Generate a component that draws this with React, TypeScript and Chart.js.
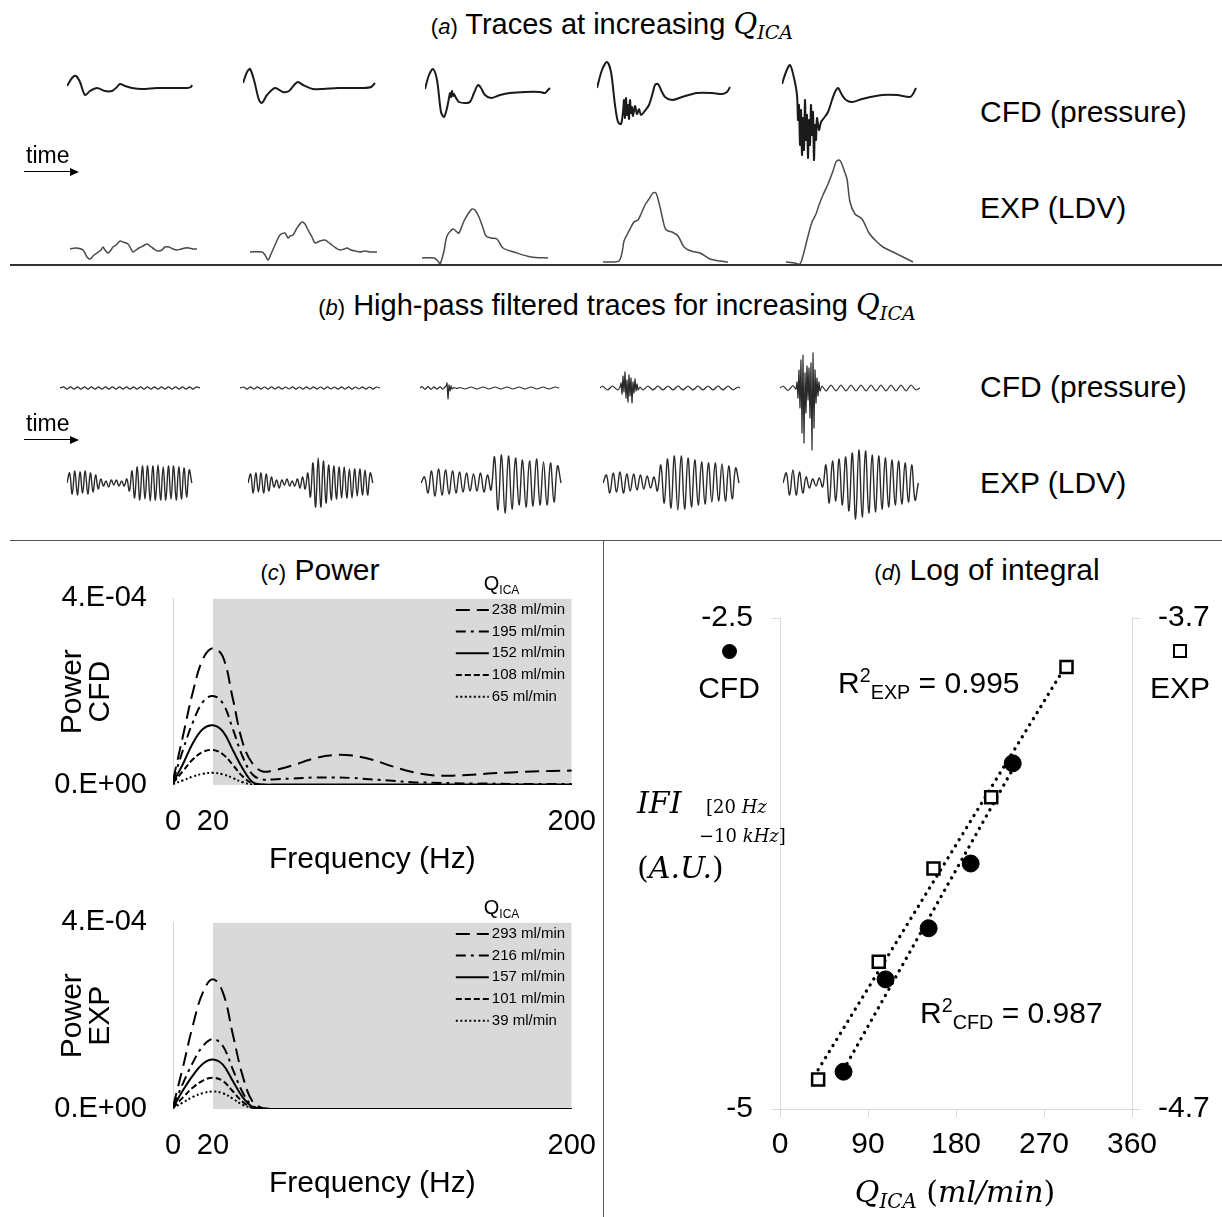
import React, { useEffect, useRef } from 'react';
import { Chart, registerables } from 'chart.js';

Chart.register(...registerables);
const FONT = '"Liberation Sans", Arial, Helvetica, sans-serif';
const SERIF = '"DejaVu Serif", "Liberation Serif", serif';
Chart.defaults.font.family = FONT;
Chart.defaults.color = '#000';

type Pair = [number, number];

// ---------------- flow rates (ml/min) ----------------
const cfdFlowRates = [65, 108, 152, 195, 238];
const expFlowRates = [39, 101, 157, 216, 293];

// ---------------- (a) raw traces: [time, value] (a.u.) ----------------
const cfdRaw065: Pair[] = [[0,79],[5,87],[9,89],[13,83],[18,70],[23,74],[30,77],[38,74],[45,74],[50,78],[53,81],[58,79],[65,77],[75,76],[90,77],[110,77],[120,77],[124,78],[125,80]];
const cfdRaw108: Pair[] = [[0,82],[4,93],[7,96],[11,85],[16,65],[19,62],[24,70],[32,77],[40,73],[46,74],[52,81],[55,83],[60,80],[70,76],[80,76],[95,77],[120,77],[128,78],[132,82]];
const cfdRaw152: Pair[] = [[0,76],[4,90],[8,96],[12,85],[16,53],[19,48],[22,57],[24,67],[25,72],[26,68],[27,74],[28,69],[29,71],[31,67],[34,63],[40,62],[45,63],[49,72],[53,80],[56,77],[60,70],[66,67],[75,70],[85,72],[100,73],[115,73],[120,72],[123,75],[125,77]];
const cfdRaw195: Pair[] = [[0,77],[5,95],[10,103],[14,93],[18,60],[21,43],[24,41],[26,53],[27,65],[28,47],[29,67],[30,50],[31,60],[32,46],[33,65],[34,52],[35,58],[36,49],[38,59],[40,51],[42,56],[44,50],[47,53],[52,60],[56,73],[58,80],[61,81],[64,75],[68,68],[75,65],[85,68],[100,72],[115,72],[125,71],[130,73],[133,78]];
const cfdRaw238: Pair[] = [[0,81],[4,93],[8,100],[12,87],[15,70],[16,45],[17,60],[18,20],[19,55],[20,10],[21,47],[22,15],[23,65],[24,25],[25,50],[26,7],[27,45],[28,20],[29,60],[30,30],[31,53],[32,5],[33,40],[34,25],[35,47],[37,35],[39,43],[42,47],[46,53],[50,65],[53,73],[56,77],[60,70],[64,65],[70,63],[80,66],[100,70],[115,70],[128,68],[131,71],[134,77]];

const expRaw039: Pair[] = [[0,16],[6,17],[13,15],[17,8],[20,6],[24,10],[27,12],[31,15],[33,18],[35,15],[38,12],[41,15],[43,18],[46,20],[48,22],[50,24],[53,23],[58,21],[61,16],[63,13],[66,15],[69,17],[73,19],[77,21],[80,19],[84,16],[88,14],[92,15],[95,18],[99,18],[103,16],[107,15],[111,16],[115,17],[119,17],[123,16],[127,16]];
const expRaw101: Pair[] = [[0,13],[12,13],[15,10],[18,5],[21,11],[25,20],[30,30],[35,32],[38,27],[40,29],[43,30],[47,37],[52,43],[55,41],[57,37],[62,28],[65,22],[70,24],[75,25],[78,23],[82,20],[86,17],[90,15],[94,16],[97,17],[101,15],[105,14],[110,13],[115,14],[120,13],[127,13]];
const expRaw157: Pair[] = [[0,7],[12,7],[16,4],[18,1],[22,14],[25,29],[31,36],[35,33],[37,32],[42,44],[46,51],[50,56],[53,55],[57,48],[61,37],[64,29],[69,27],[75,26],[81,17],[92,13],[109,8],[126,7]];
const expRaw216: Pair[] = [[3,3],[12,3],[19,4],[22,12],[24,24],[28,32],[34,43],[38,45],[41,51],[45,60],[49,66],[53,72],[56,72],[60,58],[65,37],[68,34],[72,33],[78,29],[84,18],[91,14],[100,12],[110,6],[120,4],[128,3]];
const expRaw293: Pair[] = [[3,3],[12,2],[17,1],[21,13],[24,25],[29,43],[33,51],[36,60],[40,70],[45,81],[50,94],[53,103],[56,105],[58,103],[61,95],[64,86],[67,63],[72,51],[79,46],[86,32],[93,24],[100,18],[110,13],[120,8],[130,3]];

// ---------------- (b) high-pass filtered traces ----------------
const cfdHp065 = [0, 1.2, -1.1, 1.2, -1.2, 1.1, -1.2, 1.2, -1.1, 1.2, -1.2, 1.1, -1.1, 1.2, -1.2, 1.1, -1.2, 1.2, -1.1, 1.1, -1.2, 1.2, -1.1, 1.2, -1.2, 1.1, -1.1, 1.2, -1.2, 1.1, -1.2, 1.2, -1.1, 1.1, -1.2, 1.2, -1.1, 1.2, -1.2, 1.1, 0];
const cfdHp108 = [0, 1.0, -1.1, 1.1, -1.0, 1.1, -1.1, 1.0, -1.1, 1.1, -1.0, 1.1, -1.1, 1.0, -1.0, 1.1, -1.1, 1.0, -1.1, 1.1, -1.0, 1.1, -1.1, 1.0, -1.1, 1.1, -1.0, 1.0, -1.1, 1.1, -1.0, 1.1, -1.1, 1.0, -1.0, 1.1, -1.1, 1.0, -1.1, 1.0, 0];
const cfdHpDt = 3.5;
const cfdHp152: Pair[] = [[0,0],[2,1.3],[5,-1.3],[8,1.3],[11,-1.3],[14,1.2],[17,-1.2],[20,1.2],[23,-1],[25,1],[26,2],[27,5],[28,-11],[29,3],[30,-3],[31,2],[32,-1],[34,0.5],[37,-0.5],[40,0.5],[45,-1],[51,1],[57,-1],[63,1],[69,-1],[75,1],[81,-1],[87,1],[93,-1],[99,1],[105,-1],[111,1],[117,-1],[123,1],[129,-1],[135,1],[139,0]];
const cfdHp195: Pair[] = [[0,0],[2.5,2],[7.5,-2],[12.5,2],[17.5,-2],[20,1],[21,5],[22,-6],[23,12],[24,-4],[25,16],[26,-10],[27,8],[28,-14],[29,13],[30,-8],[31,10],[32,-15],[33,6],[34,-5],[35,9],[36,-3],[37,4],[38,-2],[40,1],[43,-2],[48,2],[53,-2],[58,2],[63,-2],[68,2],[73,-2],[78,2],[83,-2],[88,2],[93,-2],[98,2],[103,-2],[108,2],[113,-2],[118,2],[123,-2],[128,2],[133,-2],[138,1],[140,0]];
const cfdHp238: Pair[] = [[0,0],[3,2],[8,-2.5],[13,2.5],[16,-1],[17,6],[18,-10],[19,18],[20,-20],[21,28],[22,-45],[23,33],[24,-55],[25,15],[26,-25],[27,22],[28,-12],[29,20],[30,-30],[31,25],[32,-62],[33,35],[34,-40],[35,18],[36,-15],[37,10],[38,-8],[39,6],[40,-3],[42,2],[46,-3],[51,3],[56,-3],[61,3],[66,-3],[71,3],[76,-3],[81,3],[86,-3],[91,3],[96,-3],[101,3],[106,-3],[111,3],[116,-3],[121,3],[126,-3],[131,3],[136,-2],[140,0]];

const expHp039 = [0, 10, -11, 12, -12, 11, -10, 12, -11, 10, -9, 8, -6, 4, -3, 2, -4, 3, -2, 3, -3, 2, -3, 4, -8, 12, -15, 16, -17, 17, -16, 17, -18, 17, -17, 18, -17, 16, -17, 17, -16, 17, -17, 16, -16, 15, -14, 13, 0];
const expHp101 = [0, 9, -10, 10, -9, 10, -10, 9, -8, 6, -4, 3, -5, 3, -2, 4, -3, 2, -3, 4, -5, 6, -6, 10, -14, 20, -24, 25, -24, 22, -20, 18, -17, 17, -16, 16, -15, 16, -15, 14, -15, 14, -13, 14, -12, 13, -12, 10, 0];
const expHp157 = [0, 6, -10, 12, -13, 14, -12, 13, -11, 12, -10, 11, -9, 10, -8, 9, -8, 10, -9, 8, -7, 26, -27, 28, -30, 27, -26, 25, -22, 23, -24, 22, -23, 24, -22, 21, -22, 20, -19, 17, 0];
const expHp216 = [0, 8, -10, 10, -9, 11, -10, 9, -8, 9, -7, 8, -6, 7, -5, 6, -8, 18, -20, 24, -25, 27, -27, 27, -26, 25, -24, 23, -22, 21, -21, 20, -19, 20, -18, 19, -18, 17, -16, 15, 0];
const expHp293 = [0, 10, -12, 13, -12, 11, -10, 6, -5, 4, -3, 5, -4, 18, -20, 22, -18, 24, -22, 26, -28, 30, -36, 33, -34, 32, -30, 28, -29, 27, -26, 25, -24, 23, -22, 22, -21, 20, -19, 18, -17, 0];
const expHpDt = [2.6, 2.6, 3.5, 3.4, 3.3];

// ---------------- (c) power spectra (units of 1e-4) ----------------
const freqHz = [0, 5, 10, 15, 20, 25, 30, 35, 40, 45, 50, 60, 70, 80, 90, 100, 110, 120, 130, 140, 150, 160, 170, 180, 190, 200];
const freqTicks = [0, 20, 200];
const powerTicks = [0, 4];
const shadeFrom = 20;
const cfdPower238 = [0.10, 1.05, 2.0, 2.7, 2.93, 2.75, 1.85, 0.9, 0.45, 0.29, 0.31, 0.42, 0.56, 0.64, 0.63, 0.54, 0.40, 0.28, 0.21, 0.20, 0.22, 0.25, 0.27, 0.29, 0.30, 0.31];
const cfdPower195 = [0.08, 0.75, 1.35, 1.78, 1.91, 1.75, 1.2, 0.6, 0.22, 0.12, 0.12, 0.14, 0.16, 0.16, 0.15, 0.12, 0.09, 0.06, 0.05, 0.04, 0.03, 0.03, 0.02, 0.02, 0.02, 0.02];
const cfdPower152 = [0.05, 0.45, 0.9, 1.2, 1.28, 1.15, 0.75, 0.35, 0.06, 0.01, 0.01, 0.01, 0.01, 0.01, 0.01, 0.01, 0.01, 0.01, 0.01, 0.01, 0.01, 0.01, 0.01, 0.01, 0.01, 0.01];
const cfdPower108 = [0.04, 0.3, 0.55, 0.71, 0.75, 0.66, 0.43, 0.18, 0.03, 0.01, 0, 0, 0, 0, 0, 0, 0, 0, 0, 0, 0, 0, 0, 0, 0, 0];
const cfdPower065 = [0.02, 0.1, 0.18, 0.24, 0.26, 0.23, 0.15, 0.06, 0.01, 0, 0, 0, 0, 0, 0, 0, 0, 0, 0, 0, 0, 0, 0, 0, 0, 0];
const expPower293 = [0.05, 0.9, 1.8, 2.5, 2.78, 2.5, 1.6, 0.7, 0.15, 0.02, 0, 0, 0, 0, 0, 0, 0, 0, 0, 0, 0, 0, 0, 0, 0, 0];
const expPower216 = [0.05, 0.55, 1.0, 1.35, 1.5, 1.35, 0.85, 0.35, 0.06, 0, 0, 0, 0, 0, 0, 0, 0, 0, 0, 0, 0, 0, 0, 0, 0, 0];
const expPower157 = [0.03, 0.4, 0.72, 0.97, 1.06, 0.95, 0.6, 0.25, 0.04, 0, 0, 0, 0, 0, 0, 0, 0, 0, 0, 0, 0, 0, 0, 0, 0, 0];
const expPower101 = [0.02, 0.25, 0.46, 0.61, 0.67, 0.6, 0.38, 0.15, 0.03, 0, 0, 0, 0, 0, 0, 0, 0, 0, 0, 0, 0, 0, 0, 0, 0, 0];
const expPower039 = [0.02, 0.14, 0.26, 0.34, 0.375, 0.34, 0.22, 0.09, 0.02, 0, 0, 0, 0, 0, 0, 0, 0, 0, 0, 0, 0, 0, 0, 0, 0, 0];

// ---------------- (d) log of integral ----------------
const cfdLogIFI = [-4.81, -4.34, -4.08, -3.75, -3.24];
const expLogIFI = [-4.64, -4.40, -4.21, -4.065, -3.80];
const cfdFitFlow = [65, 238];
const cfdFitLog = [-4.80, -3.27];
const expFitFlow = [39, 293];
const expFitLog = [-4.62, -3.795];
const flowTicksStep = 90;
const cfdAxisTicks = [-5, -2.5];
const expAxisTicks = [-4.7, -3.7];

// ---------------- helpers ----------------
const sampled = (values: number[], dt: number): Pair[] => values.map((v, i) => [i * dt, v] as Pair);

function excelSci(v: number): string {
  const val = v * 1e-4;
  if (val === 0) return '0.E+00';
  const exp = Math.floor(Math.log10(Math.abs(val)) + 1e-9);
  const mant = Math.round(val / Math.pow(10, exp));
  return `${mant}.E${exp < 0 ? '-' : '+'}${String(Math.abs(exp)).padStart(2, '0')}`;
}

function MiniTrace(p: any) {
  const ref = useRef<HTMLCanvasElement>(null);
  useEffect(() => {
    const chart = new Chart(ref.current as HTMLCanvasElement, {
      type: 'line',
      data: {
        datasets: [{
          data: p.points.map(([t, v]: Pair) => ({ x: t, y: v })),
          borderColor: p.row.color,
          borderWidth: p.row.lineWidth,
          pointRadius: 0,
          tension: p.row.tension,
          fill: false,
        }],
      },
      options: {
        animation: false,
        responsive: false,
        events: [],
        layout: { padding: 0 },
        plugins: { legend: { display: false }, tooltip: { enabled: false } },
        scales: {
          x: { type: 'linear', display: false, min: 0, max: p.row.xMax },
          y: { display: false, min: p.row.yMin, max: p.row.yMax },
        },
      } as any,
    });
    return () => chart.destroy();
  }, []);
  return <canvas ref={ref} width={p.row.width} height={p.row.height}
    style={{ position: 'absolute', left: p.left, top: p.row.top }} />;
}

const insideLegendPlugin = {
  id: 'insideLegend',
  afterDatasetsDraw(chart: any, _a: any, opts: any) {
    const { ctx, chartArea } = chart;
    const r = chartArea.right;
    ctx.save();
    ctx.fillStyle = '#000';
    ctx.textAlign = 'left';
    ctx.textBaseline = 'alphabetic';
    ctx.font = `20px ${FONT}`;
    const hx = r - 88;
    const hy = chartArea.top - 8;
    ctx.fillText('Q', hx, hy);
    const qw = ctx.measureText('Q').width;
    ctx.font = `12px ${FONT}`;
    ctx.fillText('ICA', hx + qw, hy + 4);
    let i = 0;
    chart.data.datasets.forEach((ds: any) => {
      if (!ds.label) return;
      const y = chartArea.top + 11.5 + i * 21.7;
      ctx.beginPath();
      ctx.setLineDash(ds.borderDash || []);
      ctx.lineWidth = ds.borderWidth;
      ctx.strokeStyle = ds.borderColor;
      ctx.moveTo(r - 116, y);
      ctx.lineTo(r - 83, y);
      ctx.stroke();
      ctx.setLineDash([]);
      ctx.font = `15px ${FONT}`;
      ctx.textBaseline = 'middle';
      ctx.fillText(ds.label, r - 80, y);
      i++;
    });
    ctx.restore();
  },
};

const dashStyles = [[14, 7], [10, 5, 3, 5], [], [6, 3], [2, 2.5]];

function PowerChart({ top, series, rates, yTitle }: any) {
  const ref = useRef<HTMLCanvasElement>(null);
  useEffect(() => {
    const datasets: any[] = series.map((vals: number[], i: number) => ({
      label: `${rates[i]} ml/min`,
      data: freqHz.map((f, j) => ({ x: f, y: vals[j] })),
      borderColor: '#000',
      borderWidth: 2,
      borderDash: dashStyles[i],
      pointRadius: 0,
      tension: 0.4,
      fill: false,
      order: 1,
    }));
    datasets.push({
      label: '',
      data: [{ x: shadeFrom, y: powerTicks[1] }, { x: freqHz[freqHz.length - 1], y: powerTicks[1] }],
      borderWidth: 0,
      pointRadius: 0,
      backgroundColor: '#d9d9d9',
      fill: 'origin',
      order: 10,
    });
    const chart = new Chart(ref.current as HTMLCanvasElement, {
      type: 'line',
      data: { datasets },
      plugins: [insideLegendPlugin],
      options: {
        animation: false,
        responsive: false,
        events: [],
        layout: { padding: 0 },
        plugins: { legend: { display: false }, tooltip: { enabled: false }, insideLegend: {} },
        scales: {
          x: {
            type: 'linear', min: 0, max: 200,
            afterBuildTicks: (s: any) => { s.ticks = freqTicks.map((v) => ({ value: v })); },
            afterFit: (s: any) => { s.height = 100; },
            ticks: { font: { size: 29 }, padding: 20, autoSkip: false, maxRotation: 0, color: '#000' },
            grid: { display: true, drawOnChartArea: false, drawTicks: false },
            border: { display: false },
            title: { display: true, text: 'Frequency (Hz)', font: { size: 30 }, padding: { top: 0, bottom: 7 }, color: '#000' },
          },
          y: {
            min: 0, max: powerTicks[1],
            afterBuildTicks: (s: any) => { s.ticks = powerTicks.map((v) => ({ value: v })); },
            afterFit: (s: any) => { s.width = 143; },
            ticks: { font: { size: 29 }, padding: 26, color: '#000', callback: (v: any) => excelSci(Number(v)) },
            grid: { display: true, drawOnChartArea: false, drawTicks: false },
            border: { display: true, color: '#d9d9d9', width: 1 },
            title: { display: true, text: ['Power', yTitle], font: { size: 30, lineHeight: 0.95 }, padding: { top: 28, bottom: 0 }, color: '#000' },
          },
        },
      } as any,
    });
    return () => chart.destroy();
  }, []);
  return <canvas ref={ref} width={586} height={330} style={{ position: 'absolute', left: 30, top }} />;
}

function IntegralChart() {
  const ref = useRef<HTMLCanvasElement>(null);
  useEffect(() => {
    const axisGrid = { display: true, drawOnChartArea: false, drawTicks: true, tickLength: 8, color: '#d9d9d9' };
    const axisBorder = { display: true, color: '#d9d9d9', width: 1 };
    const chart = new Chart(ref.current as HTMLCanvasElement, {
      type: 'scatter',
      data: {
        datasets: [
          { label: 'CFD', data: cfdFlowRates.map((x, i) => ({ x, y: cfdLogIFI[i] })), yAxisID: 'y', pointStyle: 'circle', pointRadius: 8.5, backgroundColor: '#000', borderColor: '#000', borderWidth: 1, order: 1 },
          { label: 'EXP', data: expFlowRates.map((x, i) => ({ x, y: expLogIFI[i] })), yAxisID: 'y2', pointStyle: 'rect', pointRadius: 8.5, backgroundColor: '#fff', borderColor: '#000', borderWidth: 2.5, order: 1 },
          { label: 'CFD fit', data: cfdFitFlow.map((x, i) => ({ x, y: cfdFitLog[i] })), yAxisID: 'y', showLine: true, pointRadius: 0, borderColor: '#000', borderWidth: 3.3, borderDash: [0.1, 7], borderCapStyle: 'round', order: 2 },
          { label: 'EXP fit', data: expFitFlow.map((x, i) => ({ x, y: expFitLog[i] })), yAxisID: 'y2', showLine: true, pointRadius: 0, borderColor: '#000', borderWidth: 3.3, borderDash: [0.1, 7], borderCapStyle: 'round', order: 2 },
        ],
      },
      options: {
        animation: false,
        responsive: false,
        events: [],
        layout: { padding: 0 },
        plugins: { legend: { display: false }, tooltip: { enabled: false } },
        scales: {
          x: {
            type: 'linear', min: 0, max: 360,
            ticks: { stepSize: flowTicksStep, font: { size: 30 }, padding: 10, autoSkip: false, maxRotation: 0, color: '#000' },
            grid: axisGrid, border: axisBorder,
            afterFit: (s: any) => { s.height = 108; },
          },
          y: {
            position: 'left', min: cfdAxisTicks[0], max: cfdAxisTicks[1],
            afterBuildTicks: (s: any) => { s.ticks = cfdAxisTicks.map((v) => ({ value: v })); },
            ticks: { font: { size: 30 }, padding: 19, color: '#000', callback: (v: any) => String(v) },
            grid: axisGrid, border: axisBorder,
            afterFit: (s: any) => { s.width = 170; },
          },
          y2: {
            position: 'right', min: expAxisTicks[0], max: expAxisTicks[1],
            afterBuildTicks: (s: any) => { s.ticks = expAxisTicks.map((v) => ({ value: v })); },
            ticks: { font: { size: 30 }, padding: 18, color: '#000', callback: (v: any) => String(v) },
            grid: axisGrid, border: axisBorder,
            afterFit: (s: any) => { s.width = 90; },
          },
        },
      } as any,
    });
    return () => chart.destroy();
  }, []);
  return <canvas ref={ref} width={612} height={636} style={{ position: 'absolute', left: 610, top: 581 }} />;
}

// ---------------- layout ----------------
const ROW_A_CFD = { top: 55, height: 110, width: 140, xMax: 140, yMin: 0, yMax: 110, color: '#1a1a1a', lineWidth: 2, tension: 0.3, lefts: [67, 243, 425, 597, 782] };
const ROW_A_EXP = { top: 150, height: 115, width: 140, xMax: 140, yMin: 0, yMax: 115, color: '#4a4a4a', lineWidth: 1.5, tension: 0.3, lefts: [70, 250, 422, 600, 783] };
const ROW_B_CFD = { top: 324, height: 130, width: 142, xMax: 142, yMin: -66, yMax: 64, color: '#2a2a2a', lineWidth: 1.2, tension: 0.2, lefts: [60, 240, 420, 600, 780] };
const ROW_B_EXP = { top: 438, height: 90, width: 142, xMax: 142, yMin: -45, yMax: 45, color: '#2a2a2a', lineWidth: 1.4, tension: 0.4, lefts: [67, 248, 421, 603, 783] };

function Label({ x, y, size, align = 'left', children, style }: any) {
  const tr = align === 'center' ? 'translateX(-50%)' : align === 'right' ? 'translateX(-100%)' : undefined;
  return (
    <div style={{ position: 'absolute', left: x, top: y - size * 0.6, fontSize: size, lineHeight: `${size * 1.2}px`, whiteSpace: 'nowrap', fontFamily: FONT, color: '#000', transform: tr, ...style }}>
      {children}
    </div>
  );
}
const MI = ({ children }: any) => <span style={{ fontFamily: SERIF, fontStyle: 'italic' }}>{children}</span>;
const MU = ({ children }: any) => <span style={{ fontFamily: SERIF, fontStyle: 'normal' }}>{children}</span>;
const Sub = ({ children }: any) => <span style={{ fontSize: '0.66em', position: 'relative', top: '0.3em' }}>{children}</span>;
const Sup = ({ children }: any) => <span style={{ fontSize: '0.66em', position: 'relative', top: '-0.55em' }}>{children}</span>;

function TimeArrow({ y }: any) {
  return (
    <>
      <Label x={26} y={y - 16} size={23}>time</Label>
      <div style={{ position: 'absolute', left: 24, top: y - 0.75, width: 48, height: 0, borderTop: '1.5px solid #000' }} />
      <div style={{ position: 'absolute', left: 70, top: y - 4, width: 0, height: 0, borderTop: '4px solid transparent', borderBottom: '4px solid transparent', borderLeft: '9px solid #000' }} />
    </>
  );
}

export default function App() {
  const rawCfd = [cfdRaw065, cfdRaw108, cfdRaw152, cfdRaw195, cfdRaw238];
  const rawExp = [expRaw039, expRaw101, expRaw157, expRaw216, expRaw293];
  const hpCfd = [sampled(cfdHp065, cfdHpDt), sampled(cfdHp108, cfdHpDt), cfdHp152, cfdHp195, cfdHp238];
  const hpExp = [expHp039, expHp101, expHp157, expHp216, expHp293].map((v, i) => sampled(v, expHpDt[i]));

  return (
    <div style={{ position: 'absolute', left: 0, top: 0, width: 1222, height: 1217, background: '#fff', overflow: 'hidden', fontFamily: FONT }}>
      {/* (a) */}
      <Label x={612} y={24} size={29} align="center"><span style={{ fontSize: 22 }}>(<i>a</i>)</span> Traces at increasing <MI>Q<Sub>ICA</Sub></MI></Label>
      {rawCfd.map((pts, i) => <MiniTrace key={'ac' + i} points={pts} row={ROW_A_CFD} left={ROW_A_CFD.lefts[i]} />)}
      {rawExp.map((pts, i) => <MiniTrace key={'ae' + i} points={pts} row={ROW_A_EXP} left={ROW_A_EXP.lefts[i]} />)}
      <Label x={980} y={112} size={30}>CFD (pressure)</Label>
      <Label x={980} y={208} size={30}>EXP (LDV)</Label>
      <TimeArrow y={172} />
      <div style={{ position: 'absolute', left: 10, top: 264, width: 1212, height: 2, background: '#333' }} />

      {/* (b) */}
      <Label x={617} y={305} size={29} align="center"><span style={{ fontSize: 22 }}>(<i>b</i>)</span> High-pass filtered traces for increasing <MI>Q<Sub>ICA</Sub></MI></Label>
      {hpCfd.map((pts, i) => <MiniTrace key={'bc' + i} points={pts} row={ROW_B_CFD} left={ROW_B_CFD.lefts[i]} />)}
      {hpExp.map((pts, i) => <MiniTrace key={'be' + i} points={pts} row={ROW_B_EXP} left={ROW_B_EXP.lefts[i]} />)}
      <Label x={980} y={387} size={30}>CFD (pressure)</Label>
      <Label x={980} y={483} size={30}>EXP (LDV)</Label>
      <TimeArrow y={440} />

      {/* (c) */}
      <Label x={320} y={570} size={30} align="center"><span style={{ fontSize: 22 }}>(<i>c</i>)</span> Power</Label>
      <PowerChart top={555} series={[cfdPower238, cfdPower195, cfdPower152, cfdPower108, cfdPower065]} rates={[...cfdFlowRates].reverse()} yTitle="CFD" />
      <PowerChart top={879} series={[expPower293, expPower216, expPower157, expPower101, expPower039]} rates={[...expFlowRates].reverse()} yTitle="EXP" />

      {/* (d) */}
      <Label x={987} y={570} size={30} align="center"><span style={{ fontSize: 22 }}>(<i>d</i>)</span> Log of integral</Label>
      <IntegralChart />
      <div style={{ position: 'absolute', left: 721.5, top: 643.5, width: 15, height: 15, borderRadius: '50%', background: '#000' }} />
      <Label x={729} y={688} size={30} align="center">CFD</Label>
      <div style={{ position: 'absolute', left: 1173, top: 644, width: 14, height: 14, boxSizing: 'border-box', border: '2.5px solid #000', background: '#fff' }} />
      <Label x={1180} y={688} size={30} align="center">EXP</Label>
      <Label x={838} y={683} size={30}>R<Sup>2</Sup><Sub>EXP</Sub> = 0.995</Label>
      <Label x={920} y={1013} size={30}>R<Sup>2</Sup><Sub>CFD</Sub> = 0.987</Label>
      <Label x={637} y={803} size={30}><MI>IFI</MI></Label>
      <Label x={706} y={807} size={18}><MU>[20 </MU><MI>Hz</MI></Label>
      <Label x={699} y={836} size={18}><MU>−10 </MU><MI>kHz</MI><MU>]</MU></Label>
      <Label x={637} y={868} size={30}><MU>(</MU><MI>A.U.</MI><MU>)</MU></Label>
      <Label x={955} y={1192} size={30} align="center"><MI>Q<Sub>ICA</Sub></MI><MU> (</MU><MI>ml/min</MI><MU>)</MU></Label>

      {/* separators */}
      <div style={{ position: 'absolute', left: 10, top: 540, width: 1212, height: 1, background: '#555', zIndex: 2 }} />
      <div style={{ position: 'absolute', left: 603, top: 540, width: 1, height: 677, background: '#555', zIndex: 2 }} />
    </div>
  );
}
